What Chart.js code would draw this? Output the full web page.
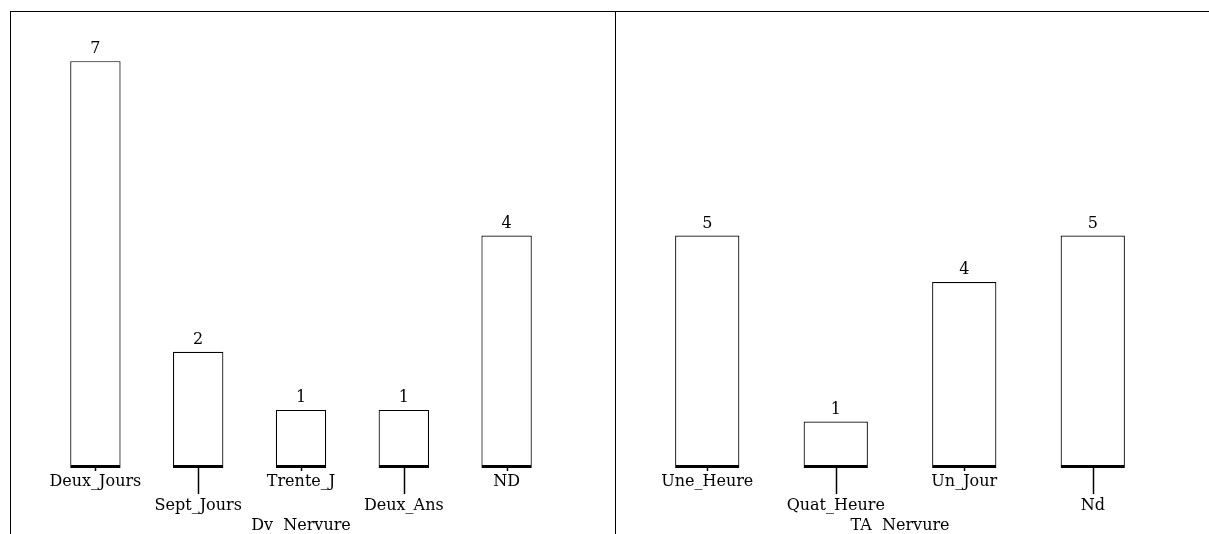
<!DOCTYPE html>
<html>
<head>
<meta charset="utf-8">
<script src="https://cdn.jsdelivr.net/npm/chart.js@4.4.0/dist/chart.umd.min.js"></script>
<style>
  html, body { margin: 0; padding: 0; background: #fff; }
  body { width: 1209px; height: 534px; position: relative; overflow: hidden; }
  .frame { position: absolute; left: 10px; top: 11px; width: 1199px; height: 523px;
           border-top: 1px solid #000; border-left: 1px solid #000; box-sizing: border-box; }
  .divider { position: absolute; left: 615px; top: 11px; width: 1px; height: 523px; background: #000; }
  .panel { position: absolute; top: 0; height: 534px; }
  #left { left: 10px; width: 605px; }
  #right { left: 616px; width: 593px; }
</style>
</head>
<body>
<div class="panel" id="left"><canvas id="dvChart"></canvas></div>
<div class="panel" id="right"><canvas id="taChart"></canvas></div>
<div class="frame"></div>
<div class="divider"></div>
<script>
// left panel
const dvLabels = ['Deux_Jours', 'Sept_Jours', 'Trente_J', 'Deux_Ans', 'ND'];
const dvValues = [7, 2, 1, 1, 4];
// right panel
const taLabels = ['Une_Heure', 'Quat_Heure', 'Un_Jour', 'Nd'];
const taValues = [5, 1, 4, 5];

const serif = '"DejaVu Serif", "Liberation Serif", serif';
const fontSize = 16;

// value above each bar, tick marks under bars (short / long alternating), axis title
const barExtras = {
    id: 'barExtras',
    afterDatasetsDraw(chart, args, opts) {
        const ctx = chart.ctx;
        const meta = chart.getDatasetMeta(0);
        const xs = chart.scales.x;
        const area = chart.chartArea;
        ctx.save();
        ctx.strokeStyle = '#000';
        ctx.lineWidth = 1.5;
        xs.ticks.forEach((t, i) => {
            const x = Math.round(xs.getPixelForTick(i)) + 0.5;
            ctx.beginPath();
            ctx.moveTo(x, area.bottom);
            ctx.lineTo(x, area.bottom + (i % 2 ? 26 : 3));
            ctx.stroke();
        });
        ctx.fillStyle = '#000';
        ctx.font = fontSize + 'px ' + serif;
        ctx.textAlign = 'center';
        ctx.textBaseline = 'middle';
        meta.data.forEach((bar, i) => {
            ctx.fillText(chart.data.datasets[0].data[i], bar.x, bar.y - 12);
        });
        // axis title
        ctx.fillText(opts.title, (area.left + area.right) / 2, chart.height - 8);
        ctx.restore();
    }
};

function makeChart(id, labels, values, title, yMax, pad, barPct) {
    return new Chart(document.getElementById(id), {
        type: 'bar',
        data: {
            labels: labels,
            datasets: [{
                data: values,
                backgroundColor: '#fff',
                borderColor: '#000',
                borderWidth: { top: 1.2, left: 1.2, right: 1.2, bottom: 3 },
                borderSkipped: false,
                barPercentage: barPct,
                categoryPercentage: 1
            }]
        },
        options: {
            responsive: true,
            maintainAspectRatio: false,
            animation: false,
            layout: { padding: pad },
            plugins: {
                legend: { display: false },
                tooltip: { enabled: false },
                barExtras: { title: title }
            },
            scales: {
                y: { display: false, min: 0, max: yMax },
                x: {
                    border: { display: false },
                    grid: { display: false, drawTicks: false },
                    ticks: {
                        color: '#000',
                        padding: 2,
                        maxRotation: 0,
                        autoSkip: false,
                        font: { family: serif, size: fontSize, lineHeight: 24 / fontSize },
                        callback: function (v, i) {
                            const l = this.getLabelForValue(v);
                            return i % 2 ? ['', l] : l;
                        }
                    },
                    title: { display: false }
                }
            }
        },
        plugins: [barExtras]
    });
}

makeChart('dvChart', dvLabels, dvValues, 'Dv  Nervure', 8,
    { left: 34, right: 57, top: 3, bottom: 14 }, 0.49);
makeChart('taChart', taLabels, taValues, 'TA  Nervure', 10,
    { left: 27, right: 52, top: 3, bottom: 14 }, 0.5);
</script>
</body>
</html>
